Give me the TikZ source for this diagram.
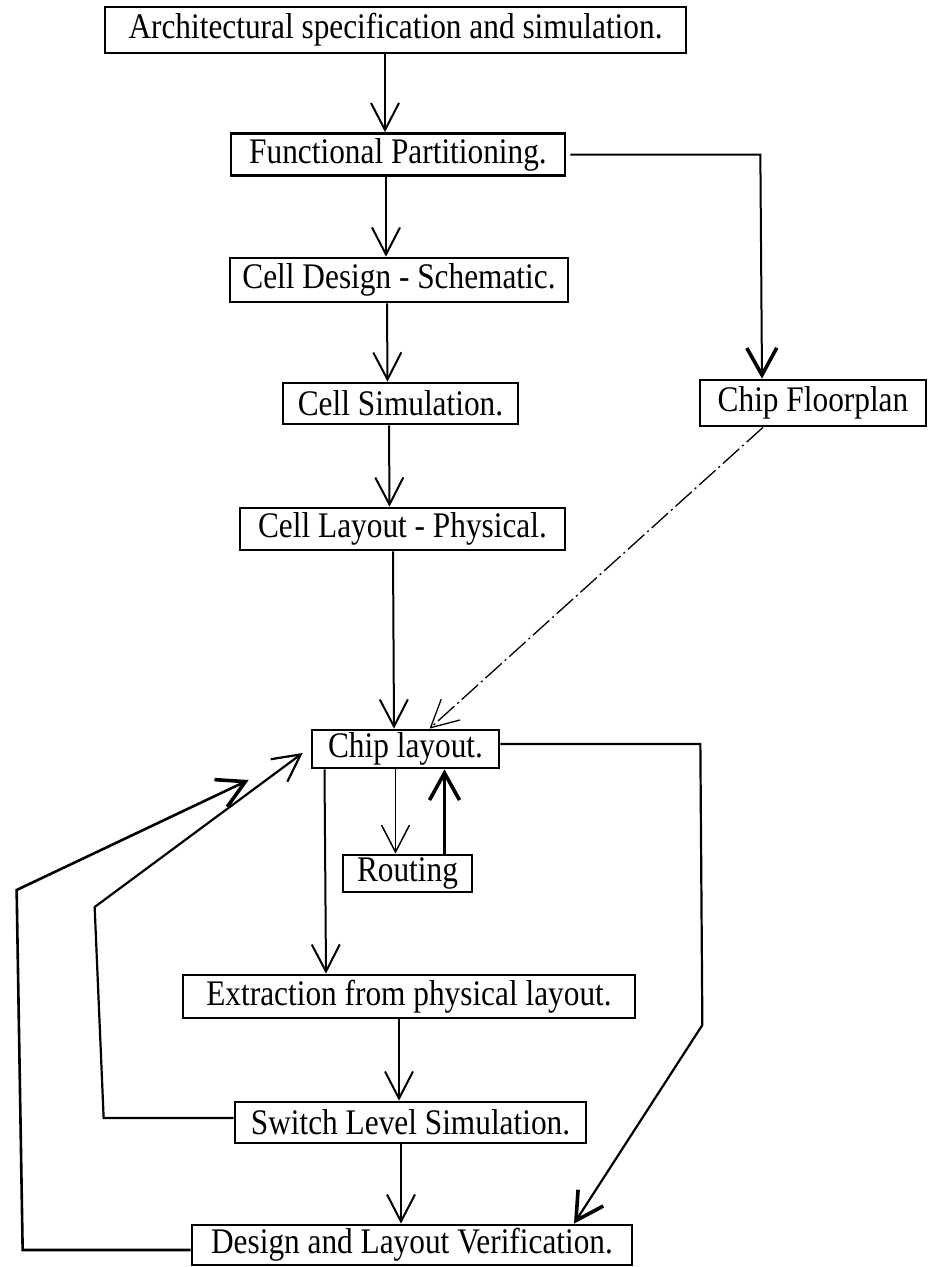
\documentclass[tikz,border=0pt]{standalone}
\usepackage{fontspec}
\setmainfont[FakeStretch=0.87]{Liberation Serif}
\usetikzlibrary{arrows.meta}

\begin{document}
\begin{tikzpicture}[
  x=1pt,y=-1pt,
  stage/.style={draw,line width=2.7pt,inner sep=0pt,minimum height=42pt,
                align=center,font=\fontsize{36}{40}\selectfont},
  ar/.style={-{Straight Barb[length=27pt,width=28pt]},line width=2pt},
  arbold/.style={-{Straight Barb[length=27pt,width=30pt,line width=3.6pt]},line width=2.4pt},
  dd/.style={line width=1.3pt,dash pattern=on 22pt off 4pt on 2pt off 4pt}
]
\useasboundingbox (0,0) rectangle (928,1267);

\node[stage,minimum width=581pt,minimum height=46pt] (arch) at (395.5,30) {Architectural specification and simulation.};
\node[stage,minimum width=334pt] (part) at (398,154.5) {Functional Partitioning.};
\node[stage,minimum width=338pt,minimum height=44pt] (schem) at (399,280) {Cell Design - Schematic.};
\node[stage,minimum width=235pt,minimum height=41pt] (cellsim) at (400.5,403.5) {Cell Simulation.};
\node[stage,minimum width=226pt,minimum height=46pt] (floor) at (813,403) {Chip Floorplan};
\node[stage,minimum width=325pt] (celllay) at (402.5,529) {Cell Layout - Physical.};
\node[stage,minimum width=187pt,minimum height=38pt] (chiplay) at (405.5,749) {Chip layout.};
\node[stage,minimum width=129pt,minimum height=37pt] (route) at (407.5,873.5) {Routing};
\node[stage,minimum width=452pt,minimum height=43pt] (extract) at (409,996.5) {Extraction from physical layout.};
\node[stage,minimum width=351pt,minimum height=41pt] (switchsim) at (410.5,1122.5) {Switch Level Simulation.};
\node[stage,minimum width=440pt,minimum height=40pt] (verify) at (412,1245) {Design and Layout Verification.};

\draw[ar] ([xshift=-10.5pt]arch.south) -- ([xshift=-13pt]part.north);
\draw[ar] ([xshift=-12pt]part.south) -- ([xshift=-13pt]schem.north);
\draw[ar] ([xshift=-12pt]schem.south) -- ([xshift=-13pt]cellsim.north);
\draw[ar] ([xshift=-11.5pt]cellsim.south) -- ([xshift=-13pt]celllay.north);
\draw[ar] ([xshift=-9.5pt]celllay.south) -- ([xshift=-11.5pt]chiplay.north);

\draw[arbold,line width=2pt] ([xshift=4pt]part.east) -- ++(190,0) -- ([xshift=-51pt]floor.north);
\draw[ar,dd] ([xshift=-50pt]floor.south) -- ([xshift=24pt]chiplay.north);

\draw[ar,line width=1.5pt] ([xshift=-10pt]chiplay.south) -- ([xshift=-12pt]route.north);
\draw[arbold] ([xshift=37pt]route.north) -- ([xshift=39pt]chiplay.south);
\draw[ar] ([xshift=-81pt]chiplay.south) -- ([xshift=-83pt]extract.north);
\draw[ar] ([xshift=-10pt]extract.south) -- ([xshift=-11.5pt]switchsim.north);
\draw[ar] ([xshift=-9.5pt]switchsim.south) -- ([xshift=-11pt]verify.north);

\draw[arbold,line width=2.2pt] ([yshift=5pt]chiplay.east) -- ++(200,0) -- ++(2,281) -- ([xshift=162pt]verify.north);
\draw[ar,line width=2.2pt] ([yshift=4.5pt]switchsim.west) -- ++(-130,0) -- ++(-9,-211) -- ([xshift=-8pt,yshift=-4pt]chiplay.west);
\draw[arbold,line width=2.6pt] ([yshift=-5pt]verify.west) -- ++(-168,0) -- ++(-6,-360) -- ([xshift=-62pt,yshift=-31pt]chiplay.west);
\end{tikzpicture}
\end{document}
